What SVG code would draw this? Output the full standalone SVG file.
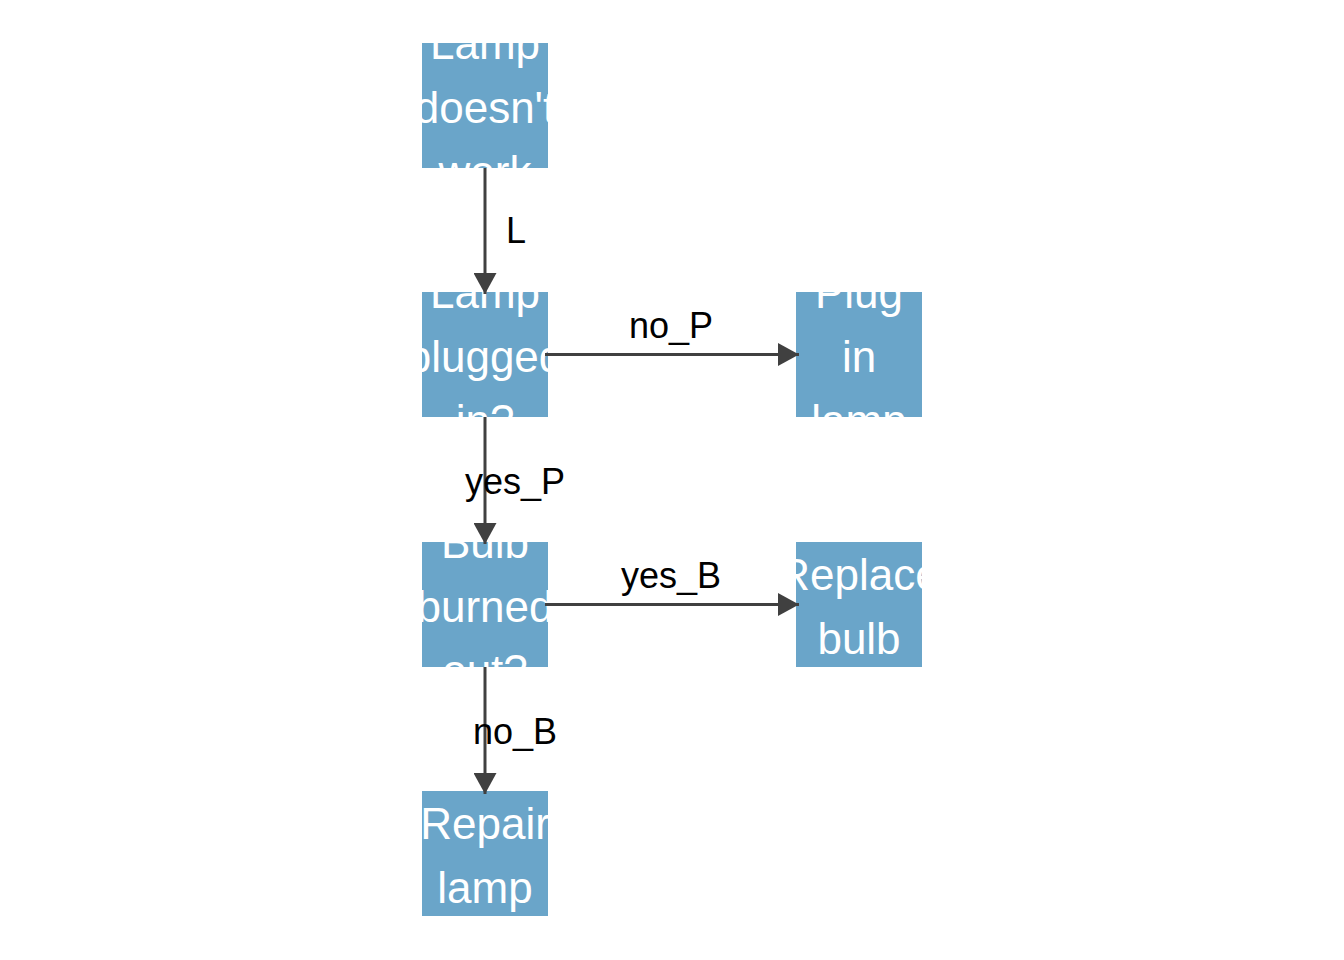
<svg xmlns="http://www.w3.org/2000/svg" width="1344" height="960" viewBox="0 0 1344 960">
<style>
.box{fill:#6aa5c9}
.nt{fill:#ffffff;font-family:"Liberation Sans",Arial,sans-serif;font-size:44px;text-anchor:middle}
.edge{stroke:#404040;stroke-width:3;fill:none}
.el{fill:#000000;font-family:"Liberation Sans",Arial,sans-serif;font-size:36px;text-anchor:middle}
</style>
<defs>
<marker id="arr" markerUnits="userSpaceOnUse" markerWidth="21" markerHeight="23" refX="21" refY="11.5" orient="auto" viewBox="0 0 21 23">
<path d="M0,0 L21,11.5 L0,23 z" fill="#404040"/>
</marker>
<clipPath id="c1"><rect x="422" y="43" width="126" height="125"/></clipPath>
<clipPath id="c2"><rect x="422" y="292" width="126" height="125"/></clipPath>
<clipPath id="c3"><rect x="796" y="292" width="126" height="125"/></clipPath>
<clipPath id="c4"><rect x="422" y="542" width="126" height="125"/></clipPath>
<clipPath id="c5"><rect x="796" y="542" width="126" height="125"/></clipPath>
<clipPath id="c6"><rect x="422" y="791" width="126" height="125"/></clipPath>
</defs>
<rect width="1344" height="960" fill="#ffffff"/>
<g id="n1">
<rect class="box" x="422" y="43" width="126" height="125"/>
<g clip-path="url(#c1)"><text class="nt" x="485" y="59">Lamp</text><text class="nt" x="485" y="123">doesn't</text><text class="nt" x="485" y="187">work</text></g>
</g>
<g id="n2">
<rect class="box" x="422" y="292" width="126" height="125"/>
<g clip-path="url(#c2)"><text class="nt" x="485" y="308">Lamp</text><text class="nt" x="485" y="372">plugged</text><text class="nt" x="485" y="436">in?</text></g>
</g>
<g id="n3">
<rect class="box" x="796" y="292" width="126" height="125"/>
<g clip-path="url(#c3)"><text class="nt" x="859" y="308">Plug</text><text class="nt" x="859" y="372">in</text><text class="nt" x="859" y="436">lamp</text></g>
</g>
<g id="n4">
<rect class="box" x="422" y="542" width="126" height="125"/>
<g clip-path="url(#c4)"><text class="nt" x="485" y="558">Bulb</text><text class="nt" x="485" y="622">burned</text><text class="nt" x="485" y="686">out?</text></g>
</g>
<g id="n5">
<rect class="box" x="796" y="542" width="126" height="125"/>
<g clip-path="url(#c5)"><text class="nt" x="859" y="590">Replace</text><text class="nt" x="859" y="654">bulb</text></g>
</g>
<g id="n6">
<rect class="box" x="422" y="791" width="126" height="125"/>
<g clip-path="url(#c6)"><text class="nt" x="485" y="839">Repair</text><text class="nt" x="485" y="903">lamp</text></g>
</g>
<g id="edges">
<line class="edge" x1="485" y1="168" x2="485" y2="294" marker-end="url(#arr)"/>
<line class="edge" x1="545" y1="354.5" x2="799" y2="354.5" marker-end="url(#arr)"/>
<line class="edge" x1="485" y1="417" x2="485" y2="544" marker-end="url(#arr)"/>
<line class="edge" x1="545" y1="604.5" x2="799" y2="604.5" marker-end="url(#arr)"/>
<line class="edge" x1="485" y1="667" x2="485" y2="794" marker-end="url(#arr)"/>
<text class="el" x="516" y="243">L</text>
<text class="el" x="671" y="338">no_P</text>
<text class="el" x="515" y="494">yes_P</text>
<text class="el" x="671" y="588">yes_B</text>
<text class="el" x="515" y="744">no_B</text>
</g>
</svg>
